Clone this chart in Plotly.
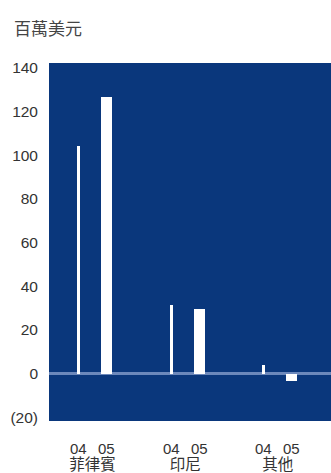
import plotly.graph_objects as go

# Regions and annual values (US$ millions)
regions = ["菲律賓", "印尼", "其他"]
years = ["04", "05"]
values_04 = [104, 31.5, 4.1]
values_05 = [126.5, 29.4, -3.5]

y_ticks = [-20, 0, 20, 40, 60, 80, 100, 120, 140]
y_tick_text = ["(20)", "0", "20", "40", "60", "80", "100", "120", "140"]

navy = "#0a377c"
text_col = "#333333"
font_family = "Liberation Sans, Arial, Noto Sans CJK TC, sans-serif"

fig = go.Figure()
fig.add_trace(go.Bar(x=regions, y=values_04, name=years[0],
                     marker=dict(color="white", line=dict(width=0)),
                     width=0.033, offset=-0.168))
fig.add_trace(go.Bar(x=regions, y=values_05, name=years[1],
                     marker=dict(color="white", line=dict(width=0)),
                     width=0.118, offset=0.092))

# Year labels under each pair of bars
year_labels = []
for r in regions:
    for yr, shift in zip(years, (-14, 14)):
        year_labels.append(dict(
            text=yr, x=r, xref="x", xshift=shift,
            y=-0.077, yref="paper", xanchor="center", yanchor="middle",
            showarrow=False, font=dict(size=15, color=text_col),
        ))

fig.update_layout(
    width=331, height=473,
    margin=dict(l=49, r=0, t=63, b=52),
    paper_bgcolor="white",
    plot_bgcolor=navy,
    showlegend=False,
    bargap=0,
    font=dict(family=font_family, size=15, color=text_col),
    xaxis=dict(
        type="category",
        range=[-0.47, 2.575],
        tickmode="array", tickvals=regions, ticktext=regions,
        showgrid=False, zeroline=False, showline=False,
        ticks="", ticklabelstandoff=32, automargin=False,
        tickfont=dict(family="Noto Sans CJK TC", size=15.5, color=text_col),
        fixedrange=True,
    ),
    yaxis=dict(
        range=[-21.6, 142.1],
        tickmode="array", tickvals=y_ticks, ticktext=y_tick_text,
        showgrid=False, showline=False,
        zeroline=True, zerolinecolor="#6c88bb", zerolinewidth=3,
        ticks="", ticklabelstandoff=10, automargin=False,
        tickfont=dict(size=15.5, color=text_col),
        fixedrange=True,
    ),
    annotations=year_labels + [dict(
        text="百萬美元", xref="paper", yref="paper",
        x=-0.131, y=1.10, xanchor="left", yanchor="middle",
        showarrow=False,
        font=dict(family="Noto Sans CJK TC", size=17, color="#444444"),
    )],
)

fig.write_html("out.html")
